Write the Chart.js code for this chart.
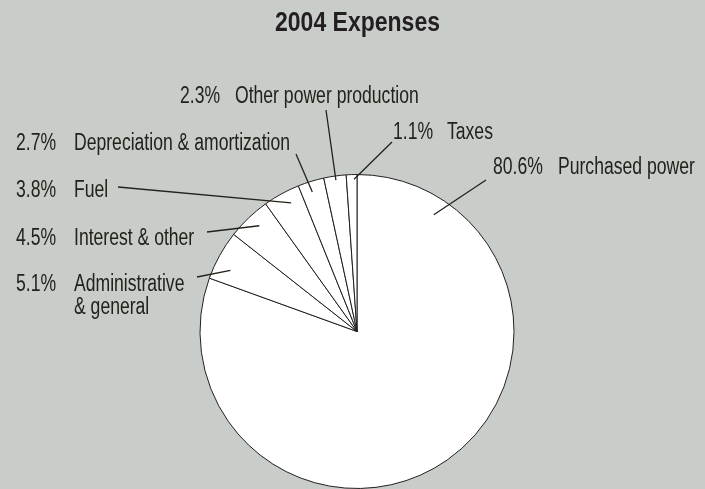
<!DOCTYPE html>
<html>
<head>
<meta charset="utf-8">
<script src="https://cdn.jsdelivr.net/npm/chart.js@4"></script>
<style>
html,body{margin:0;padding:0;background:#c8cdca;}
canvas{display:block;}
</style>
</head>
<body>
<canvas id="c" width="705" height="489"></canvas>
<script>
// ---- data ----
const chartTitle = '2004 Expenses';
const categories = ['Purchased power', 'Administrative & general', 'Interest & other', 'Fuel',
  'Depreciation & amortization', 'Other power production', 'Taxes'];
const values = [80.6, 5.1, 4.5, 3.8, 2.7, 2.3, 1.1];
const labelLines = [['Purchased power'], ['Administrative', '& general'], ['Interest & other'], ['Fuel'],
  ['Depreciation & amortization'], ['Other power production'], ['Taxes']];

// ---- style / layout ----
const BG = '#c8cdca';
const INK = '#23221a';
const LABEL_FONT = '"Liberation Sans Narrow", "Arial Narrow", "Liberation Sans", sans-serif';
const LABEL_SIZE = 23;
const LABEL_REF_TEXT = 'Depreciation & amortization';
const LABEL_REF_WIDTH = 216;   // condensed look of the reference typeface
const TITLE_SIZE = 27;
const TITLE_REF_WIDTH = 165;
// per-slice label layout: percent x, name x, baseline y, leader start (angle fraction, radius fraction), leader end
const labelLayout = [
  {px: 493, nx: 558, y: 174, af: 0.115, rf: 0.89, ex: 486, ey: 180},
  {px: 16,  nx: 74,  y: 291, af: 0.32,  rf: 0.895, ex: 197, ey: 277},
  {px: 16,  nx: 74,  y: 245, af: 0.56,  rf: 0.917, ex: 207, ey: 232},
  {px: 16,  nx: 74,  y: 197, af: 0.62,  rf: 0.92, ex: 118, ey: 187},
  {px: 16,  nx: 74,  y: 150, af: 0.43,  rf: 0.933, ex: 296, ey: 154},
  {px: 180, nx: 235, y: 103, af: 0.52,  rf: 0.974, ex: 326, ey: 110},
  {px: 393, nx: 447, y: 139, af: 0.72,  rf: 0.97, ex: 392, ey: 142}
];

function drawText(ctx, t, x, y, font, sx, align) {
  ctx.save();
  ctx.font = font;
  ctx.textAlign = align || 'left';
  ctx.textBaseline = 'alphabetic';
  ctx.translate(x, y);
  ctx.scale(sx, 1);
  ctx.fillText(t, 0, 0);
  ctx.restore();
}
function fitScale(ctx, font, text, target) {
  ctx.save();
  ctx.font = font;
  const w = ctx.measureText(text).width;
  ctx.restore();
  return w > 0 ? target / w : 1;
}

const annotate = {
  id: 'annotate',
  afterDraw(chart) {
    const ctx = chart.ctx;
    const arcs = chart.getDatasetMeta(0).data;
    // title
    const tf = 'bold ' + TITLE_SIZE + 'px ' + LABEL_FONT;
    ctx.fillStyle = '#231f20';
    drawText(ctx, chartTitle, 357.5, 31, tf, fitScale(ctx, tf, chartTitle, TITLE_REF_WIDTH), 'center');
    // labels + leaders
    const f = LABEL_SIZE + 'px ' + LABEL_FONT;
    const lsx = fitScale(ctx, f, LABEL_REF_TEXT, LABEL_REF_WIDTH);
    ctx.strokeStyle = INK;
    ctx.lineWidth = 1.3;
    arcs.forEach((arc, i) => {
      const L = labelLayout[i];
      const p = arc.getProps(['x', 'y', 'startAngle', 'endAngle', 'outerRadius'], true);
      const a = p.startAngle + (p.endAngle - p.startAngle) * L.af;
      const r = p.outerRadius * L.rf;
      const sx = p.x + Math.cos(a) * r;
      const sy = p.y + Math.sin(a) * r;
      ctx.beginPath();
      ctx.moveTo(sx, sy);
      ctx.lineTo(L.ex, L.ey);
      ctx.stroke();
      ctx.fillStyle = INK;
      drawText(ctx, values[i].toFixed(1) + '%', L.px, L.y, f, lsx);
      labelLines[i].forEach((ln, k) => drawText(ctx, ln, L.nx, L.y + k * 23, f, lsx));
    });
  }
};

const bgPlugin = {
  id: 'bg',
  beforeDraw(chart) {
    const ctx = chart.ctx;
    ctx.save();
    ctx.fillStyle = BG;
    ctx.fillRect(0, 0, chart.width, chart.height);
    ctx.restore();
  }
};

new Chart(document.getElementById('c'), {
  type: 'pie',
  data: {
    labels: categories,
    datasets: [{
      data: values,
      backgroundColor: '#ffffff',
      borderColor: '#231f20',
      borderWidth: 1
    }]
  },
  options: {
    responsive: false,
    animation: false,
    layout: {padding: {left: 199, right: 190, top: 174, bottom: -1}},
    plugins: {legend: {display: false}, tooltip: {enabled: false}, title: {display: false}}
  },
  plugins: [bgPlugin, annotate]
});
</script>
</body>
</html>
